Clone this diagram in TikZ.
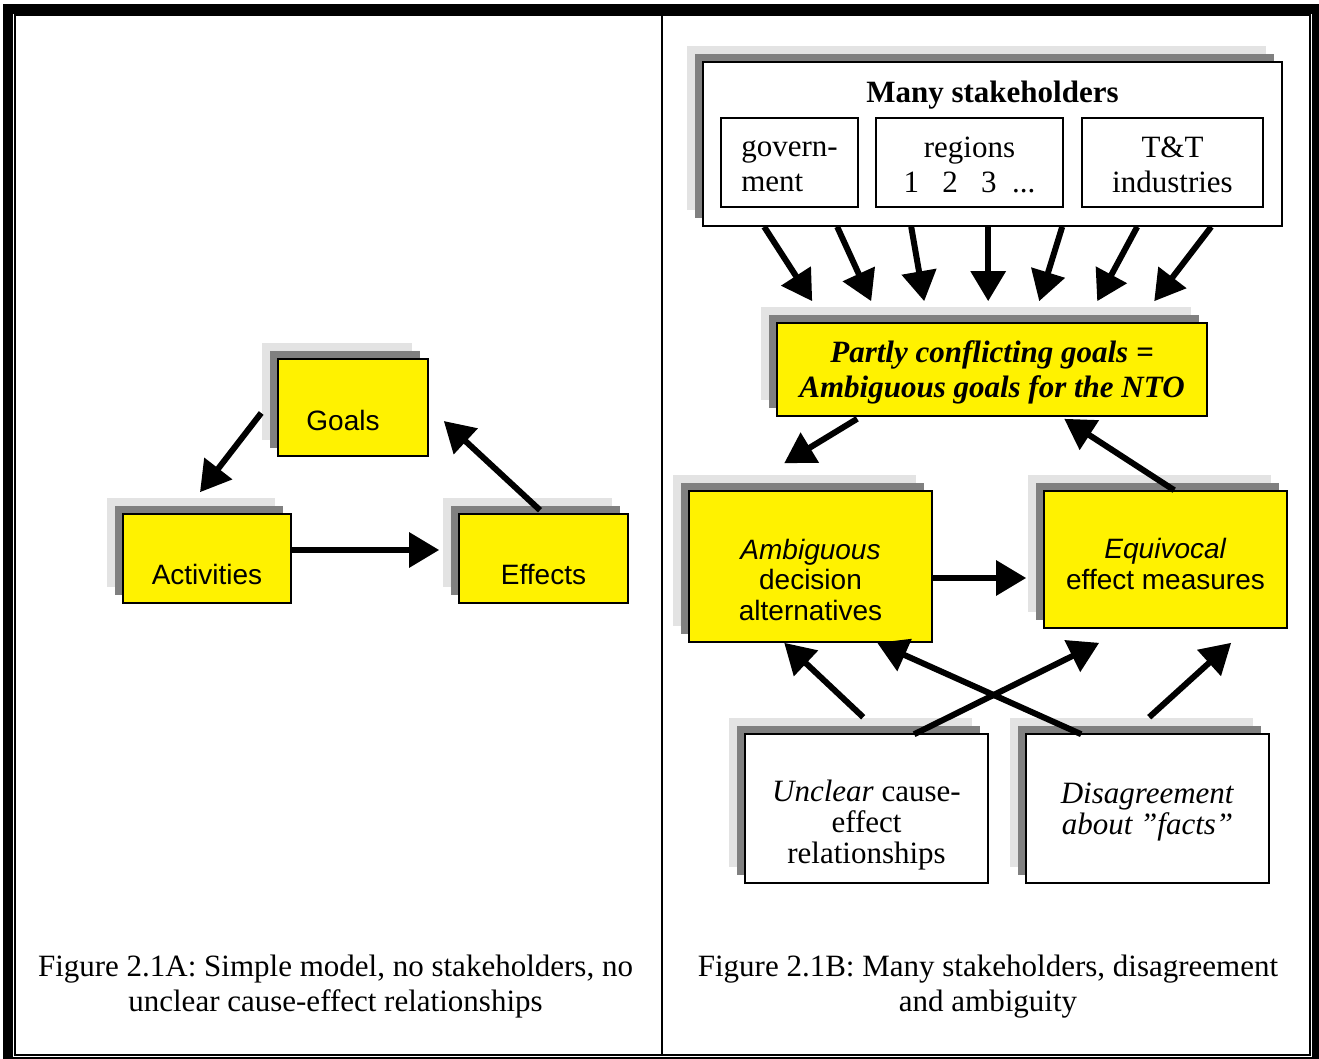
\documentclass[tikz,border=0pt]{standalone}
\usepackage{fontspec}
\setmainfont{Liberation Serif}
\setsansfont{Liberation Sans}
\usetikzlibrary{arrows.meta,calc,shadows}

\newcommand{\sink}[1]{\rule{0pt}{#1}}

\tikzset{
  layers/.style={general shadow={shadow xshift=-16pt,shadow yshift=16pt,fill=black!11},
                 general shadow={shadow xshift=-8pt,shadow yshift=8pt,fill=black!50}},
  ybox/.style={draw,line width=1.6pt,fill=yellow,layers,inner sep=0pt,align=center,
               font=\sffamily\fontsize{28}{30.5}\selectfont},
  wbox/.style={draw,line width=1.6pt,fill=white,layers,inner sep=0pt,align=center,
               font=\fontsize{31}{31}\selectfont},
  sbox/.style={draw,line width=1.2pt,inner sep=0pt,font=\fontsize{31}{35}\selectfont},
  fat/.style={line width=6pt,-{Triangle[length=30pt,width=34pt]}},
  caption/.style={inner sep=0pt,align=center,font=\fontsize{31}{35}\selectfont},
}

\begin{document}
\begin{tikzpicture}[x=1pt,y=-1pt]
\useasboundingbox (0,0) rectangle (1319,1058);
% frame
\draw[line width=10pt] (8,8.5) rectangle (1317,1062);
\draw[line width=2pt] (15,15) rectangle (1310,1055);
\draw[line width=2pt] (662,15) -- (662,1055);

% left: simple model
\node[ybox,minimum width=150pt,minimum height=97pt,text height=45pt,text depth=0pt] (goals) at (353,407.5) {Goals\hspace*{20pt}};
\node[ybox,minimum width=168pt,minimum height=89pt,text height=51pt,text depth=0pt] (acts) at (207,558.5) {Activities};
\node[ybox,minimum width=169pt,minimum height=89pt,text height=51pt,text depth=0pt] (effs) at (543.5,558.5) {Effects};

\draw[fat] ($(goals.west)+(-16,5.5)$) -- ($(acts.north)+(-7,-21)$);
\draw[fat] ($(acts.east)+(0,-8.5)$) -- ($(effs.west)+(-19,-8.5)$);
\draw[fat] ($(effs.north)+(-3.5,-3)$) -- ($(goals.east)+(15,13.5)$);

\node[caption] (capA) at (335.5,986.5) {Figure 2.1A: Simple model, no stakeholders, no\\unclear cause-effect relationships};

% right: many stakeholders
\node[wbox,minimum width=579pt,minimum height=164pt,text height=21pt,text depth=105pt,
      font=\bfseries\fontsize{31}{35}\selectfont] (stake) at (992.5,144) {Many stakeholders};
\node[sbox,minimum width=137pt,minimum height=89pt,align=left] (gov) at (789.5,162.5) {\sink{24pt}govern-\\ment};
\node[sbox,minimum width=187pt,minimum height=89pt,align=center] (reg) at (969.5,162.5) {\sink{25pt}regions\\1~~~2~~~3~~...};
\node[sbox,minimum width=181pt,minimum height=89pt,align=center] (tnt) at (1172.5,162.5) {\sink{25pt}T\&T\\industries};

\node[ybox,minimum width=430pt,minimum height=93pt,font=\bfseries\itshape\fontsize{31}{35}\selectfont] (conflict) at (992,369.5)
  {\sink{28pt}Partly conflicting goals =\\Ambiguous goals for the NTO};
\node[ybox,minimum width=243pt,minimum height=151pt] (amb) at (810.5,566.5) {\sink{47pt}\textit{Ambiguous}\\decision\\alternatives};
\node[ybox,minimum width=243pt,minimum height=137pt] (equiv) at (1165.5,559.5) {\sink{29pt}\textit{Equivocal}\\effect measures};
\node[wbox,minimum width=243pt,minimum height=149pt] (unclear) at (866.5,808.5) {\sink{54pt}\textit{Unclear} cause-\\effect\\relationships};
\node[wbox,minimum width=243pt,minimum height=149pt] (disagree) at (1147.5,808.5) {\sink{27pt}\textit{Disagreement}\\\textit{about ''facts''}};

\foreach \t/\h in {62/36,135/95,209/148,286/212,360/263,435/321,509/378}
  \draw[fat] ($(stake.south west)+(\t,0)$) -- ($(conflict.north west)+(\h,-21)$);

\draw[fat] ($(conflict.south west)+(81,2)$) -- ($(amb.north west)+(96,-27)$);
\draw[fat] ($(equiv.north west)+(131,0)$) -- ($(conflict.south west)+(288,2)$);
\draw[fat] ($(amb.east)+(0,11.5)$) -- ($(equiv.west)+(-17,18.5)$);
\draw[fat] ($(unclear.north west)+(119,-16)$) -- ($(amb.south west)+(96,0)$);
\draw[fat] ($(unclear.north west)+(170,1)$) -- ($(equiv.south west)+(56,14)$);
\draw[fat] ($(disagree.north west)+(56,1)$) -- ($(amb.south west)+(189,0)$);
\draw[fat] ($(disagree.north west)+(124,-16)$) -- ($(equiv.south west)+(188,14)$);

\node[caption] (capB) at (988,986.5) {Figure 2.1B: Many stakeholders, disagreement\\and ambiguity};
\end{tikzpicture}
\end{document}
